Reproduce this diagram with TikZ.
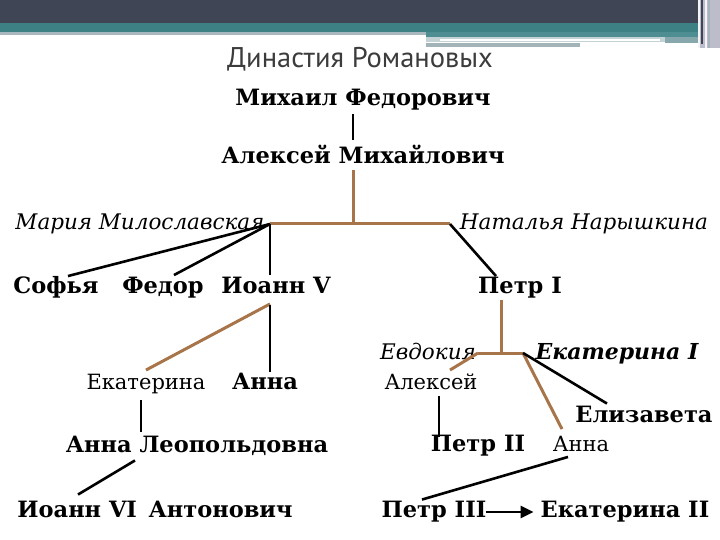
\documentclass[tikz,border=0pt]{standalone}
\usepackage{fontspec}
\setmainfont{DejaVu Serif}
\newfontfamily\titlefont{PT Sans}
\usetikzlibrary{calc,arrows.meta}
\definecolor{hdark}{HTML}{404556}
\definecolor{hteal}{HTML}{3E8184}
\definecolor{hteal2}{HTML}{4E8D91}
\definecolor{hteal3}{HTML}{86A8AC}
\definecolor{hgray}{HTML}{A8B8BE}
\definecolor{hlight}{HTML}{C3D2D5}
\definecolor{hgray2}{HTML}{A3B4B8}
\definecolor{hlav}{HTML}{BDBCCB}
\definecolor{titlec}{HTML}{3C3C3C}
\definecolor{brownln}{HTML}{A8754A}
\tikzset{
  lbl/.style={inner sep=1pt, text height=16pt, text depth=5.5pt},
  bn/.style={lbl, font=\fontsize{22.5}{26}\selectfont\bfseries},
  itl/.style={lbl, font=\fontsize{21.5}{25}\selectfont\itshape},
  rg/.style={lbl, font=\fontsize{21}{25}\selectfont},
  bi/.style={lbl, font=\fontsize{22}{26}\selectfont\bfseries\itshape},
  blk/.style={draw=black, line width=2.6pt},
  brn/.style={draw=brownln, line width=3pt},
}
\begin{document}
\begin{tikzpicture}[x=1pt,y=-1pt]
\useasboundingbox (0,0) rectangle (720,540);
% header decoration
\fill[hdark] (0,0) rectangle (698,23);
\fill[hteal] (0,23) rectangle (698,32);
\fill[hgray] (0,32) rectangle (426,35);
\fill[hteal2] (426,32) rectangle (698,37);
\fill[hteal3] (665,37) rectangle (698,43);
\fill[hlight] (426,37) rectangle (665,42);
\draw[white, line width=1.2pt] (440,40) -- (660,40);
\fill[hgray2] (426,43) rectangle (580,47);
\fill[hlav] (698,0) rectangle (720,48);
\draw[hdark, line width=2pt] (702,0) -- (702,44);
\draw[white!85!hlav, line width=1.2pt] (699,0) -- (699,48);
\draw[white!85!hlav, line width=1.2pt] (706,0) -- (706,48);
\draw[hgray2, line width=1.5pt] (709,0) -- (709,48);
% title
\node[font=\titlefont\fontsize{28.5}{32}\selectfont, text=titlec] (title) at (360,59) {Династия Романовых};
% names
\node[bn] (mikh) at (363,100) {Михаил Федорович};
\node[bn] (alex) at (363,158) {Алексей Михайлович};
\node[itl] (maria) at (140,224) {Мария Милославская};
\node[itl] (natal) at (584,224) {Наталья Нарышкина};
\node[bn] (sofya) at (56,288) {Софья};
\node[bn] (fedor) at (163,288) {Федор};
\node[bn] (ioann5) at (276,288) {Иоанн V};
\node[bn] (petr1) at (520,288) {Петр I};
\node[itl] (evdok) at (428,354) {Евдокия};
\node[bi] (ekat1) at (617,354) {Екатерина I};
\node[rg] (aleksey) at (431,384) {Алексей};
\node[rg] (ekaterina) at (146,384) {Екатерина};
\node[bn] (anna1) at (265,384) {Анна};
\node[bn] (eliz) at (644,417) {Елизавета};
\node[bn] (annaL) at (197,447) {Анна Леопольдовна};
\node[bn] (petr2) at (478,446) {Петр II};
\node[rg] (anna2) at (581,446) {Анна};
\node[bn] (ioann6) at (155,512) {Иоанн VI\, Антонович};
\node[bn] (petr3) at (434,512) {Петр III};
\node[bn] (ekat2) at (625,512) {Екатерина II};
% junctions
\coordinate (J1) at (270,224);
\coordinate (J2) at (450,224);
\coordinate (J3) at (478,353);
\coordinate (J4) at (523,353);
% connectors
\draw[blk] ($(mikh.south)+(-10,2.5)$) -- ($(alex.north)+(-10,-6.5)$);
\path ($(alex.south)+(-10,0.5)$) coordinate (a1);
\draw[brn] (a1) -- (a1 |- J1);
\draw[brn] (J1) -- (J2);
\draw[blk] ($(sofya.north)+(12,0)$) -- (J1);
\draw[blk] ($(fedor.north)+(11,-1)$) -- (J1);
\draw[blk] (J1) -- ($(ioann5.north)+(-6,-1)$);
\draw[blk] (J2) -- ($(petr1.north)+(-24,0)$);
\path ($(petr1.south)+(-19,0.5)$) coordinate (p1);
\draw[brn] (p1) -- (p1 |- J3);
\draw[brn] (J3) -- (J4);
\draw[brn] (J3) -- ($(aleksey.north)+(19,-2)$);
\draw[brn] (J4) -- ($(anna2.north)+(-19,-5)$);
\draw[blk] (J4) -- ($(eliz.north)+(-37,-1.5)$);
\draw[blk] ($(aleksey.south)+(8,0)$) -- ($(petr2.north)+(-39,2.5)$);
\draw[blk] ($(anna2.south)+(-13,-1)$) -- ($(petr3.north)+(-12,-0.5)$);
\draw[blk,-{Triangle[length=13pt,width=12pt]}] ($(petr3.east)+(-2,0)$) -- ($(ekat2.west)+(-6,0)$);
\draw[brn] ($(ioann5.south)+(-6,4)$) -- ($(ekaterina.north)+(0,-2)$);
\draw[blk] ($(ioann5.south)+(-6,5)$) -- ($(anna1.north)+(5,0)$);
\draw[blk] ($(ekaterina.south)+(-5,4)$) -- ($(annaL.north)+(-56,-3.5)$);
\draw[blk] ($(annaL.south)+(-62,1.5)$) -- ($(ioann6.north)+(-77,-5.5)$);
\end{tikzpicture}
\end{document}
